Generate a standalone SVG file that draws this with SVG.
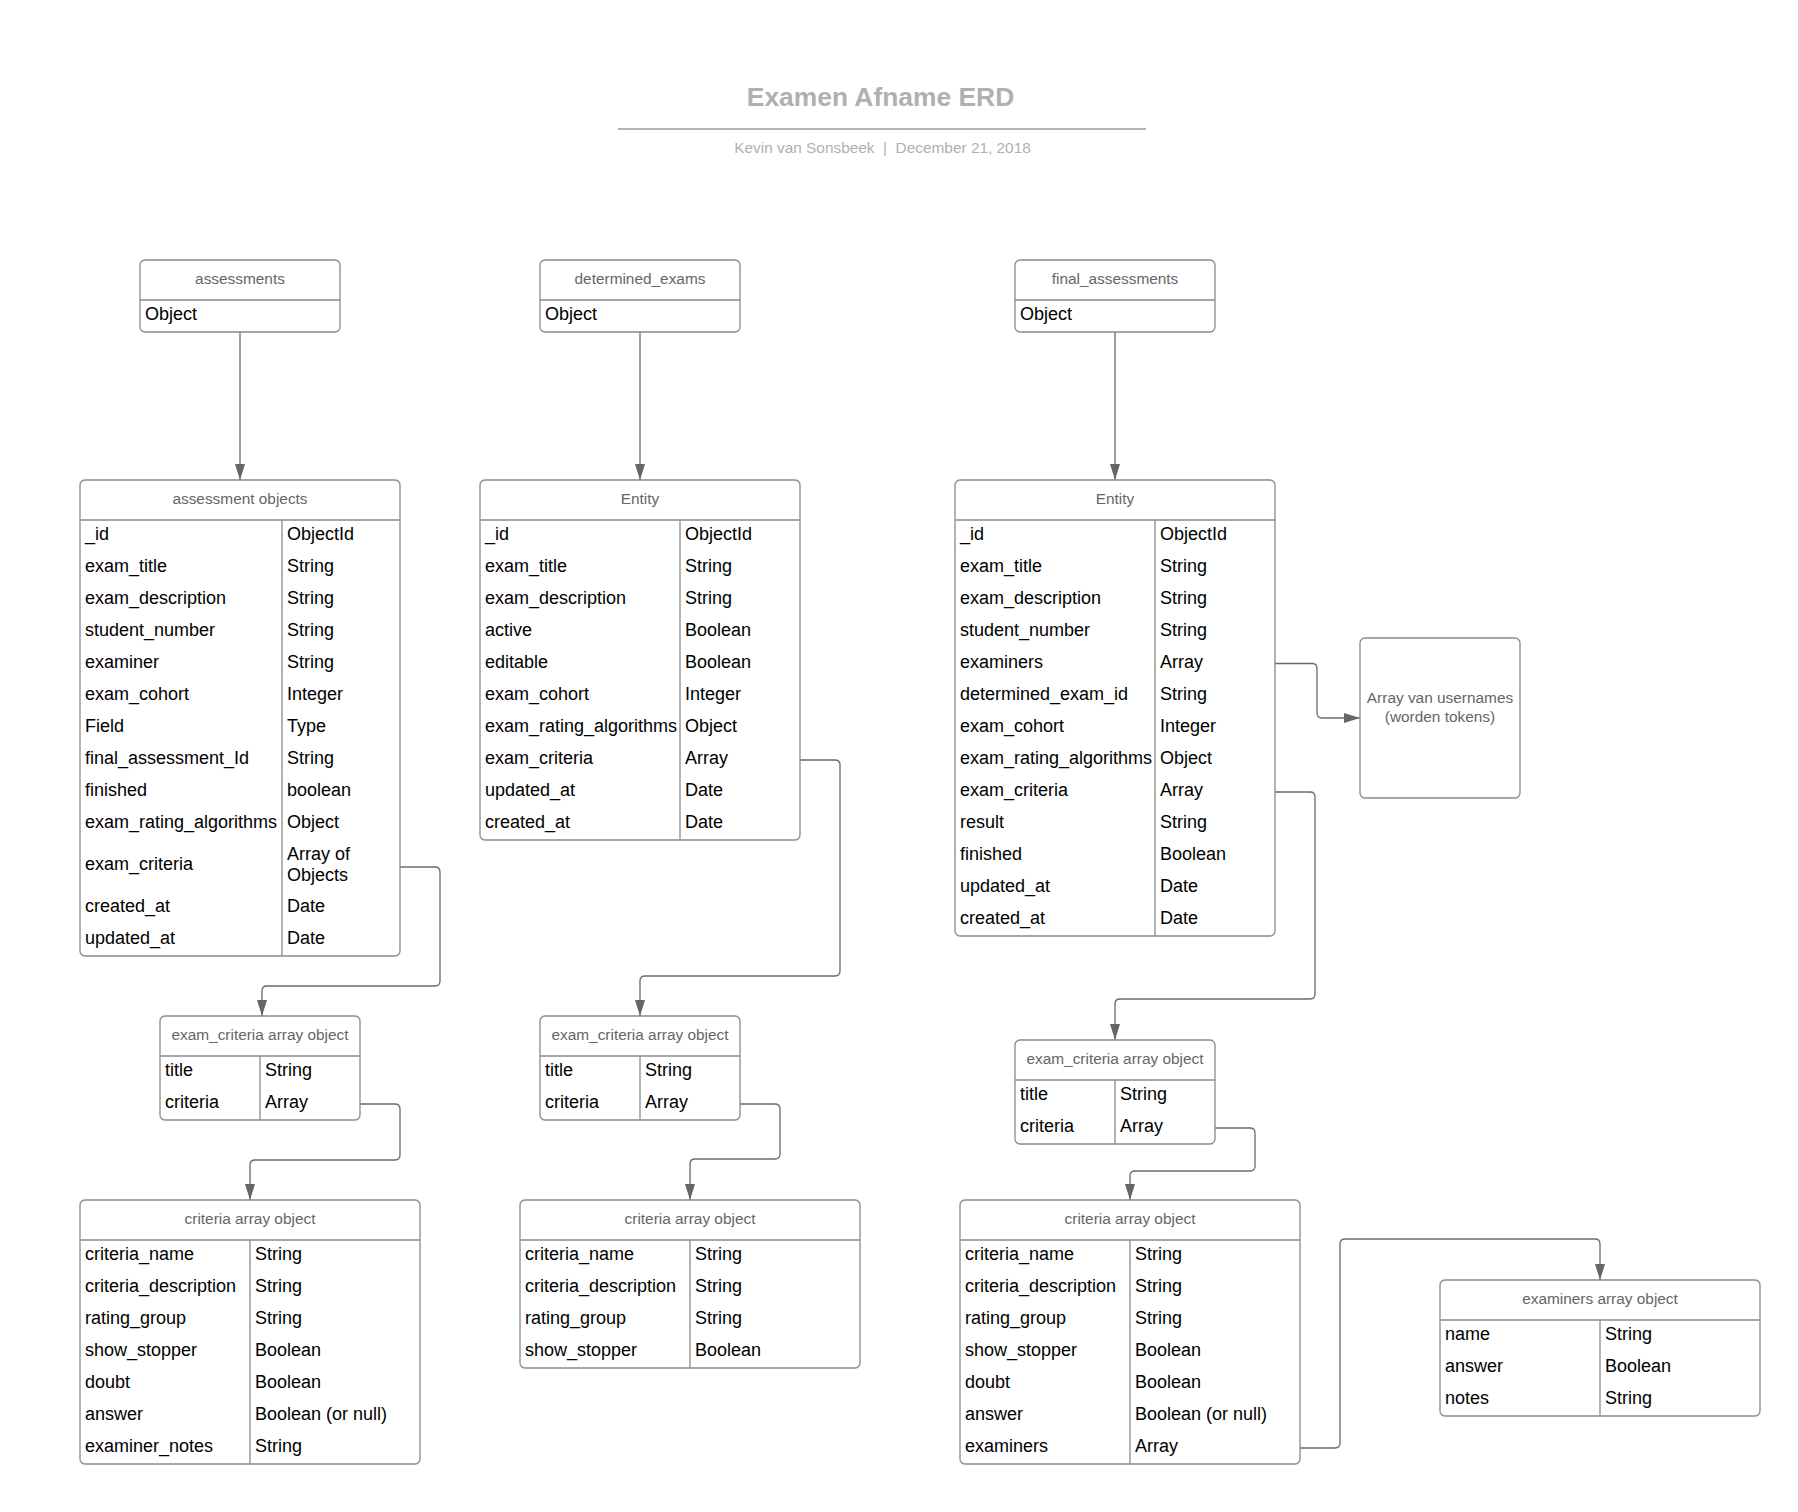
<svg xmlns="http://www.w3.org/2000/svg" width="1798" height="1512" viewBox="0 0 1798 1512">
<style>
.box{fill:#fff;stroke:#8a8a8a;stroke-width:1.3}
.sep{stroke:#8a8a8a;stroke-width:1.3}
.hd{font-family:"Liberation Sans",Arial,sans-serif;font-size:15.4px;fill:#666;text-anchor:middle}
.t{font-family:"Liberation Sans",Arial,sans-serif;font-size:18px;fill:#000}
.con{fill:none;stroke:#6a6a6a;stroke-width:1.3}
</style>
<defs>
<marker id="arr" markerUnits="userSpaceOnUse" markerWidth="17" markerHeight="11" refX="16" refY="5.5" orient="auto">
<path d="M0,0.5 L16,5.5 L0,10.5 z" fill="#666"/>
</marker>
</defs>
<rect width="1798" height="1512" fill="#fff"/>
<g id="title">
<text x="880.5" y="106" font-family="Liberation Sans, Arial, sans-serif" font-size="26.4" font-weight="bold" fill="#b0b0b0" text-anchor="middle">Examen Afname ERD</text>
<line x1="618" y1="129" x2="1146" y2="129" stroke="#b3b3b3" stroke-width="1.8"/>
<text x="882.5" y="152.7" font-family="Liberation Sans, Arial, sans-serif" font-size="15.4" fill="#b0b0b0" text-anchor="middle">Kevin van Sonsbeek&#160; |&#160; December 21, 2018</text>
</g>

<g id="connectors">
<path class="con" marker-end="url(#arr)" d="M240,332 V480"/>
<path class="con" marker-end="url(#arr)" d="M640,332 V480"/>
<path class="con" marker-end="url(#arr)" d="M1115,332 V480"/>
<path class="con" marker-end="url(#arr)" d="M398,867 H435 Q440,867 440,872 V981 Q440,986 435,986 H267 Q262,986 262,991 V1016"/>
<path class="con" marker-end="url(#arr)" d="M358,1104 H395 Q400,1104 400,1109 V1155 Q400,1160 395,1160 H255 Q250,1160 250,1165 V1200"/>
<path class="con" marker-end="url(#arr)" d="M798,760 H835 Q840,760 840,765 V971 Q840,976 835,976 H645 Q640,976 640,981 V1016"/>
<path class="con" marker-end="url(#arr)" d="M738,1104 H775 Q780,1104 780,1109 V1154 Q780,1159 775,1159 H695 Q690,1159 690,1164 V1200"/>
<path class="con" marker-end="url(#arr)" d="M1273,663.5 H1312 Q1317,663.5 1317,668.5 V713 Q1317,718 1322,718 H1360"/>
<path class="con" marker-end="url(#arr)" d="M1273,792 H1310 Q1315,792 1315,797 V994 Q1315,999 1310,999 H1120 Q1115,999 1115,1004 V1040"/>
<path class="con" marker-end="url(#arr)" d="M1213,1128 H1250 Q1255,1128 1255,1133 V1166 Q1255,1171 1250,1171 H1135 Q1130,1171 1130,1176 V1200"/>
<path class="con" marker-end="url(#arr)" d="M1297,1448 H1335 Q1340,1448 1340,1443 V1244 Q1340,1239 1345,1239 H1595 Q1600,1239 1600,1244 V1280"/>
</g>

<g id="assessments">
<rect class="box" x="140" y="260" width="200" height="72" rx="5"/>
<line class="sep" x1="140" y1="300" x2="340" y2="300"/>
<text class="hd" x="240" y="283.5">assessments</text>
<text class="t" x="145" y="319.5">Object</text>
</g>

<g id="determined_exams">
<rect class="box" x="540" y="260" width="200" height="72" rx="5"/>
<line class="sep" x1="540" y1="300" x2="740" y2="300"/>
<text class="hd" x="640" y="283.5">determined_exams</text>
<text class="t" x="545" y="319.5">Object</text>
</g>

<g id="final_assessments">
<rect class="box" x="1015" y="260" width="200" height="72" rx="5"/>
<line class="sep" x1="1015" y1="300" x2="1215" y2="300"/>
<text class="hd" x="1115" y="283.5">final_assessments</text>
<text class="t" x="1020" y="319.5">Object</text>
</g>

<g id="assessment_objects">
<rect class="box" x="80" y="480" width="320" height="476" rx="5"/>
<line class="sep" x1="80" y1="520" x2="400" y2="520"/>
<line class="sep" x1="282" y1="520" x2="282" y2="956"/>
<text class="hd" x="240" y="503.5">assessment objects</text>
<text class="t" x="85" y="539.5">_id</text><text class="t" x="287" y="539.5">ObjectId</text>
<text class="t" x="85" y="571.5">exam_title</text><text class="t" x="287" y="571.5">String</text>
<text class="t" x="85" y="603.5">exam_description</text><text class="t" x="287" y="603.5">String</text>
<text class="t" x="85" y="635.5">student_number</text><text class="t" x="287" y="635.5">String</text>
<text class="t" x="85" y="667.5">examiner</text><text class="t" x="287" y="667.5">String</text>
<text class="t" x="85" y="699.5">exam_cohort</text><text class="t" x="287" y="699.5">Integer</text>
<text class="t" x="85" y="731.5">Field</text><text class="t" x="287" y="731.5">Type</text>
<text class="t" x="85" y="763.5">final_assessment_Id</text><text class="t" x="287" y="763.5">String</text>
<text class="t" x="85" y="795.5">finished</text><text class="t" x="287" y="795.5">boolean</text>
<text class="t" x="85" y="827.5">exam_rating_algorithms</text><text class="t" x="287" y="827.5">Object</text>
<text class="t" x="85" y="869.5">exam_criteria</text><text class="t" x="287" y="859.5">Array of</text><text class="t" x="287" y="880.5">Objects</text>
<text class="t" x="85" y="911.5">created_at</text><text class="t" x="287" y="911.5">Date</text>
<text class="t" x="85" y="943.5">updated_at</text><text class="t" x="287" y="943.5">Date</text>
</g>

<g id="determined_entity">
<rect class="box" x="480" y="480" width="320" height="360" rx="5"/>
<line class="sep" x1="480" y1="520" x2="800" y2="520"/>
<line class="sep" x1="680" y1="520" x2="680" y2="840"/>
<text class="hd" x="640" y="503.5">Entity</text>
<text class="t" x="485" y="539.5">_id</text><text class="t" x="685" y="539.5">ObjectId</text>
<text class="t" x="485" y="571.5">exam_title</text><text class="t" x="685" y="571.5">String</text>
<text class="t" x="485" y="603.5">exam_description</text><text class="t" x="685" y="603.5">String</text>
<text class="t" x="485" y="635.5">active</text><text class="t" x="685" y="635.5">Boolean</text>
<text class="t" x="485" y="667.5">editable</text><text class="t" x="685" y="667.5">Boolean</text>
<text class="t" x="485" y="699.5">exam_cohort</text><text class="t" x="685" y="699.5">Integer</text>
<text class="t" x="485" y="731.5">exam_rating_algorithms</text><text class="t" x="685" y="731.5">Object</text>
<text class="t" x="485" y="763.5">exam_criteria</text><text class="t" x="685" y="763.5">Array</text>
<text class="t" x="485" y="795.5">updated_at</text><text class="t" x="685" y="795.5">Date</text>
<text class="t" x="485" y="827.5">created_at</text><text class="t" x="685" y="827.5">Date</text>
</g>

<g id="final_entity">
<rect class="box" x="955" y="480" width="320" height="456" rx="5"/>
<line class="sep" x1="955" y1="520" x2="1275" y2="520"/>
<line class="sep" x1="1155" y1="520" x2="1155" y2="936"/>
<text class="hd" x="1115" y="503.5">Entity</text>
<text class="t" x="960" y="539.5">_id</text><text class="t" x="1160" y="539.5">ObjectId</text>
<text class="t" x="960" y="571.5">exam_title</text><text class="t" x="1160" y="571.5">String</text>
<text class="t" x="960" y="603.5">exam_description</text><text class="t" x="1160" y="603.5">String</text>
<text class="t" x="960" y="635.5">student_number</text><text class="t" x="1160" y="635.5">String</text>
<text class="t" x="960" y="667.5">examiners</text><text class="t" x="1160" y="667.5">Array</text>
<text class="t" x="960" y="699.5">determined_exam_id</text><text class="t" x="1160" y="699.5">String</text>
<text class="t" x="960" y="731.5">exam_cohort</text><text class="t" x="1160" y="731.5">Integer</text>
<text class="t" x="960" y="763.5">exam_rating_algorithms</text><text class="t" x="1160" y="763.5">Object</text>
<text class="t" x="960" y="795.5">exam_criteria</text><text class="t" x="1160" y="795.5">Array</text>
<text class="t" x="960" y="827.5">result</text><text class="t" x="1160" y="827.5">String</text>
<text class="t" x="960" y="859.5">finished</text><text class="t" x="1160" y="859.5">Boolean</text>
<text class="t" x="960" y="891.5">updated_at</text><text class="t" x="1160" y="891.5">Date</text>
<text class="t" x="960" y="923.5">created_at</text><text class="t" x="1160" y="923.5">Date</text>
</g>

<g id="usernames">
<rect class="box" x="1360" y="638" width="160" height="160" rx="5"/>
<text class="hd" x="1440" y="703.3">Array van usernames</text>
<text class="hd" x="1440" y="721.7">(worden tokens)</text>
</g>

<g id="exam_criteria_a">
<rect class="box" x="160" y="1016" width="200" height="104" rx="5"/>
<line class="sep" x1="160" y1="1056" x2="360" y2="1056"/>
<line class="sep" x1="260" y1="1056" x2="260" y2="1120"/>
<text class="hd" x="260" y="1039.5">exam_criteria array object</text>
<text class="t" x="165" y="1075.5">title</text><text class="t" x="265" y="1075.5">String</text>
<text class="t" x="165" y="1107.5">criteria</text><text class="t" x="265" y="1107.5">Array</text>
</g>

<g id="exam_criteria_b">
<rect class="box" x="540" y="1016" width="200" height="104" rx="5"/>
<line class="sep" x1="540" y1="1056" x2="740" y2="1056"/>
<line class="sep" x1="640" y1="1056" x2="640" y2="1120"/>
<text class="hd" x="640" y="1039.5">exam_criteria array object</text>
<text class="t" x="545" y="1075.5">title</text><text class="t" x="645" y="1075.5">String</text>
<text class="t" x="545" y="1107.5">criteria</text><text class="t" x="645" y="1107.5">Array</text>
</g>

<g id="exam_criteria_c">
<rect class="box" x="1015" y="1040" width="200" height="104" rx="5"/>
<line class="sep" x1="1015" y1="1080" x2="1215" y2="1080"/>
<line class="sep" x1="1115" y1="1080" x2="1115" y2="1144"/>
<text class="hd" x="1115" y="1063.5">exam_criteria array object</text>
<text class="t" x="1020" y="1099.5">title</text><text class="t" x="1120" y="1099.5">String</text>
<text class="t" x="1020" y="1131.5">criteria</text><text class="t" x="1120" y="1131.5">Array</text>
</g>

<g id="criteria_a">
<rect class="box" x="80" y="1200" width="340" height="264" rx="5"/>
<line class="sep" x1="80" y1="1240" x2="420" y2="1240"/>
<line class="sep" x1="250" y1="1240" x2="250" y2="1464"/>
<text class="hd" x="250" y="1223.5">criteria array object</text>
<text class="t" x="85" y="1259.5">criteria_name</text><text class="t" x="255" y="1259.5">String</text>
<text class="t" x="85" y="1291.5">criteria_description</text><text class="t" x="255" y="1291.5">String</text>
<text class="t" x="85" y="1323.5">rating_group</text><text class="t" x="255" y="1323.5">String</text>
<text class="t" x="85" y="1355.5">show_stopper</text><text class="t" x="255" y="1355.5">Boolean</text>
<text class="t" x="85" y="1387.5">doubt</text><text class="t" x="255" y="1387.5">Boolean</text>
<text class="t" x="85" y="1419.5">answer</text><text class="t" x="255" y="1419.5">Boolean (or null)</text>
<text class="t" x="85" y="1451.5">examiner_notes</text><text class="t" x="255" y="1451.5">String</text>
</g>

<g id="criteria_b">
<rect class="box" x="520" y="1200" width="340" height="168" rx="5"/>
<line class="sep" x1="520" y1="1240" x2="860" y2="1240"/>
<line class="sep" x1="690" y1="1240" x2="690" y2="1368"/>
<text class="hd" x="690" y="1223.5">criteria array object</text>
<text class="t" x="525" y="1259.5">criteria_name</text><text class="t" x="695" y="1259.5">String</text>
<text class="t" x="525" y="1291.5">criteria_description</text><text class="t" x="695" y="1291.5">String</text>
<text class="t" x="525" y="1323.5">rating_group</text><text class="t" x="695" y="1323.5">String</text>
<text class="t" x="525" y="1355.5">show_stopper</text><text class="t" x="695" y="1355.5">Boolean</text>
</g>

<g id="criteria_c">
<rect class="box" x="960" y="1200" width="340" height="264" rx="5"/>
<line class="sep" x1="960" y1="1240" x2="1300" y2="1240"/>
<line class="sep" x1="1130" y1="1240" x2="1130" y2="1464"/>
<text class="hd" x="1130" y="1223.5">criteria array object</text>
<text class="t" x="965" y="1259.5">criteria_name</text><text class="t" x="1135" y="1259.5">String</text>
<text class="t" x="965" y="1291.5">criteria_description</text><text class="t" x="1135" y="1291.5">String</text>
<text class="t" x="965" y="1323.5">rating_group</text><text class="t" x="1135" y="1323.5">String</text>
<text class="t" x="965" y="1355.5">show_stopper</text><text class="t" x="1135" y="1355.5">Boolean</text>
<text class="t" x="965" y="1387.5">doubt</text><text class="t" x="1135" y="1387.5">Boolean</text>
<text class="t" x="965" y="1419.5">answer</text><text class="t" x="1135" y="1419.5">Boolean (or null)</text>
<text class="t" x="965" y="1451.5">examiners</text><text class="t" x="1135" y="1451.5">Array</text>
</g>

<g id="examiners_object">
<rect class="box" x="1440" y="1280" width="320" height="136" rx="5"/>
<line class="sep" x1="1440" y1="1320" x2="1760" y2="1320"/>
<line class="sep" x1="1600" y1="1320" x2="1600" y2="1416"/>
<text class="hd" x="1600" y="1303.5">examiners array object</text>
<text class="t" x="1445" y="1339.5">name</text><text class="t" x="1605" y="1339.5">String</text>
<text class="t" x="1445" y="1371.5">answer</text><text class="t" x="1605" y="1371.5">Boolean</text>
<text class="t" x="1445" y="1403.5">notes</text><text class="t" x="1605" y="1403.5">String</text>
</g>
</svg>
